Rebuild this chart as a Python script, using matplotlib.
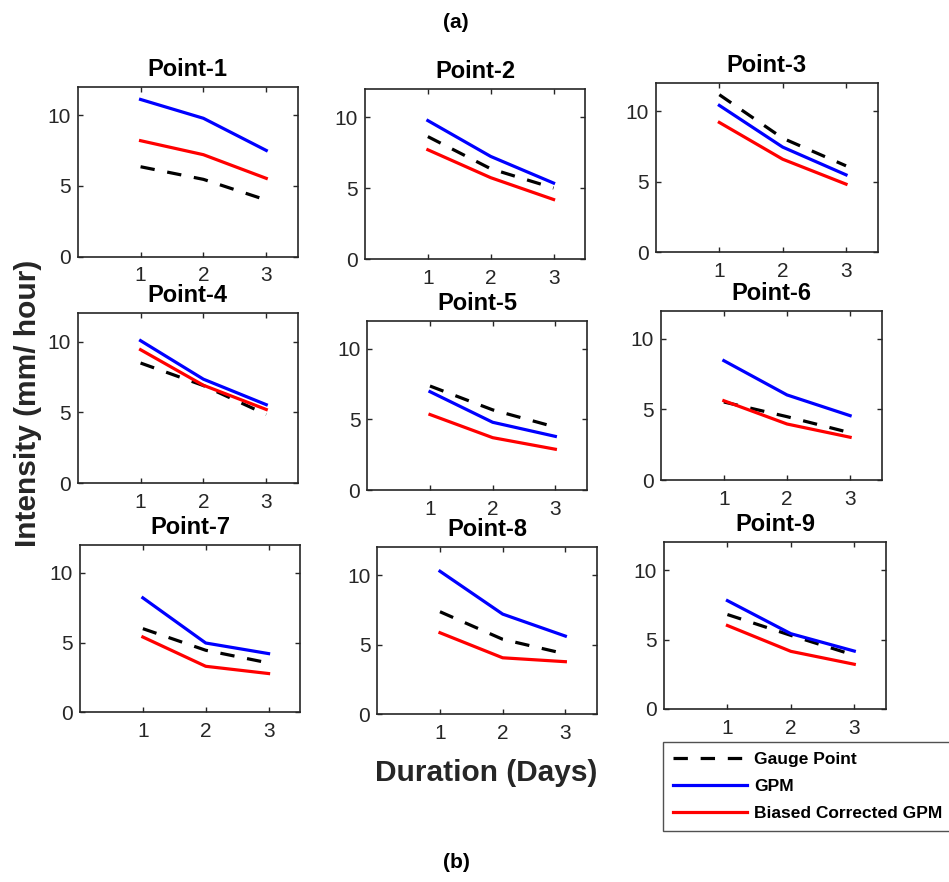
import matplotlib.pyplot as plt

plt.rcParams['font.family'] = ['Liberation Sans', 'DejaVu Sans']

days = [1, 2, 3]
titles = ['Point-1', 'Point-2', 'Point-3', 'Point-4', 'Point-5',
          'Point-6', 'Point-7', 'Point-8', 'Point-9']

# intensity (mm/hour) for duration 1, 2, 3 days
gauge = [[6.35, 5.46, 4.0], [8.64, 6.37, 5.01], [11.19, 8.1, 6.14],
         [8.49, 6.9, 4.86], [7.37, 5.68, 4.46], [5.53, 4.49, 3.35],
         [6.0, 4.45, 3.54], [7.37, 5.39, 4.34], [6.8, 5.3, 3.87]]
gpm = [[11.1, 9.77, 7.5], [9.77, 7.24, 5.36], [10.43, 7.47, 5.5],
       [10.07, 7.35, 5.55], [6.97, 4.8, 3.8], [8.46, 6.03, 4.56],
       [8.21, 4.97, 4.21], [10.28, 7.2, 5.62], [7.8, 5.42, 4.17]]
corrected = [[8.19, 7.2, 5.53], [7.71, 5.74, 4.2], [9.22, 6.61, 4.84],
             [9.43, 6.92, 5.21], [5.35, 3.71, 2.89], [5.62, 3.97, 3.03],
             [5.4, 3.3, 2.78], [5.86, 4.06, 3.78], [6.01, 4.15, 3.22]]

W, H = 949, 882
# axes boxes in pixels: left, top, right, bottom
boxes = [(77.7, 86.7, 297.7, 256.7), (365, 89, 585, 259), (656, 83.3, 877.7, 252.3),
         (77.7, 313.3, 297.7, 483.3), (367.3, 320.7, 586.7, 490), (660.7, 310.7, 881.7, 480),
         (80, 545, 300, 712.3), (377.3, 547.3, 596.7, 714.3), (664, 542.3, 886, 709)]

gray = '#262626'
fig = plt.figure(figsize=(W / 100, H / 100), dpi=100)

for i in range(9):
    l, t, r, b = boxes[i]
    ax = fig.add_axes([l / W, 1 - b / H, (r - l) / W, (b - t) / H])
    h1, = ax.plot(days, gauge[i], color='black', lw=2.3, ls=(0, (4.5, 4)),
                  label='Gauge Point')
    h2, = ax.plot(days, gpm[i], color='blue', lw=2.3, label='GPM')
    h3, = ax.plot(days, corrected[i], color='red', lw=2.3,
                  label='Biased Corrected GPM')
    ax.set_xlim(0, 3.5)
    ax.set_ylim(0, 12)
    ax.set_xticks([1, 2, 3])
    ax.set_yticks([0, 5, 10])
    ax.tick_params(direction='in', top=True, right=True, length=3.5, width=1,
                   color=gray, labelcolor=gray, labelsize=15)
    ax.tick_params(axis='x', pad=7)
    ax.tick_params(axis='y', pad=5)
    for s in ax.spines.values():
        s.set_color(gray)
        s.set_linewidth(1.2)
    ax.set_title(titles[i], fontsize=17, fontweight='bold', pad=8)

leg = fig.legend([h1, h2, h3], ['Gauge Point', 'GPM', 'Biased Corrected GPM'],
                 loc='upper left', bbox_to_anchor=(663 / W, 1 - 742 / H),
                 borderaxespad=0, fancybox=False, edgecolor=gray,
                 handlelength=4.3, handletextpad=0.4, labelspacing=0.7,
                 borderpad=0.55, prop={'weight': 'bold', 'size': 12.5})
leg.get_frame().set_linewidth(1.0)

fig.text(28 / W, 1 - 403 / H, 'Intensity (mm/ hour)', rotation=90, ha='center',
         va='center', fontsize=21.5, fontweight='bold', color=gray)
fig.text(486 / W, 1 - 773 / H, 'Duration (Days)', ha='center', va='center',
         fontsize=21.5, fontweight='bold', color=gray)
fig.text(456 / W, 1 - 22 / H, '(a)', ha='center', va='center',
         fontsize=15, fontweight='bold')
fig.text(456 / W, 1 - 862 / H, '(b)', ha='center', va='center',
         fontsize=15, fontweight='bold')

fig.savefig('out.png', dpi=100)
